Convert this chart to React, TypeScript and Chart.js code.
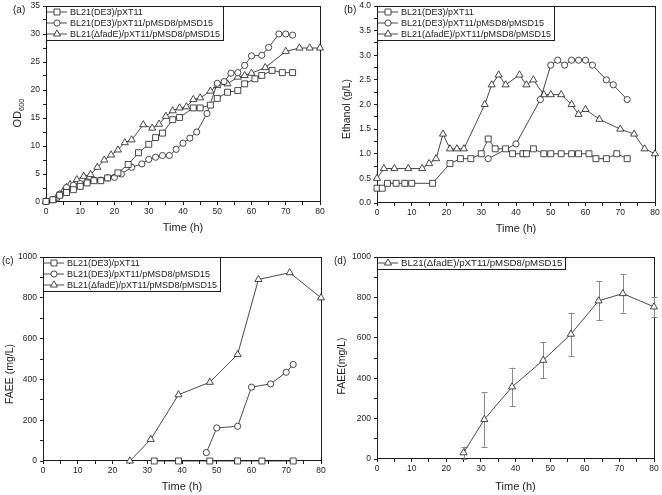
import React, { useEffect, useRef } from 'react';
import { Chart, registerables } from 'chart.js';

Chart.register(...registerables);

const FONT = '"Liberation Sans", Arial, Helvetica, sans-serif';
const INK = '#1c1c1c';

const LABEL_WT = 'BL21(DE3)/pXT11';
const LABEL_ENG = 'BL21(DE3)/pXT11/pMSD8/pMSD15';
const LABEL_FADE = 'BL21(\u0394fadE)/pXT11/pMSD8/pMSD15';

// (a) OD600
const odWtTime = [0, 2, 4, 6, 8, 10, 12, 14, 16, 18, 21, 24, 27, 30, 32, 34, 37, 39, 43, 45, 48, 50, 53, 56, 58, 61, 63, 66, 69, 72];
const odWtValue = [0.1, 0.4, 1.2, 1.7, 2.2, 2.8, 3.4, 3.8, 3.8, 4.3, 5.2, 6.7, 8.8, 10.3, 11.5, 12.3, 14.7, 15.1, 16.8, 16.8, 17.3, 18.5, 19.6, 19.9, 21.1, 22.0, 22.6, 23.5, 23.1, 23.1];
const odEngTime = [0, 2, 4, 6, 8, 10, 12, 14, 16, 18, 20, 22, 25, 28, 30, 32, 34, 36, 38, 40, 42, 44, 47, 50, 52, 54, 56, 58, 60, 63, 65, 68, 70, 72];
const odEngValue = [0.1, 0.4, 1.4, 2.6, 3.0, 3.3, 3.6, 3.9, 3.9, 4.3, 4.4, 5.0, 6.2, 6.8, 7.6, 8.0, 8.3, 8.3, 9.4, 10.5, 11.4, 12.5, 15.8, 21.2, 21.5, 23.0, 23.1, 24.4, 26.1, 26.2, 27.6, 30.0, 30.0, 29.8];
const odFadeTime = [0, 2, 3, 4, 5, 6, 7, 9, 11, 13, 15, 17, 19, 21, 23, 25, 28.4, 31, 33, 35, 37, 39, 41, 43, 45, 48, 50, 53, 56, 58, 60, 64, 70, 74, 77, 80];
const odFadeValue = [0.1, 0.3, 0.7, 1.3, 1.9, 2.6, 3.1, 4.0, 4.6, 4.9, 6.2, 7.5, 8.4, 9.3, 10.6, 11.1, 13.8, 13.2, 13.9, 15.3, 16.3, 16.8, 17.0, 18.3, 18.6, 19.8, 20.8, 21.1, 22.3, 22.6, 23.0, 24.0, 26.9, 27.5, 27.5, 27.5];

// (b) Ethanol
const etWtTime = [0, 1.5, 3, 5.5, 8, 10, 16, 21, 24, 27, 30, 32, 34, 37, 39, 42, 43, 45, 48, 50, 53, 56, 58, 61, 63, 66, 69, 72];
const etWtValue = [0.3, 0.3, 0.4, 0.4, 0.4, 0.4, 0.4, 0.8, 0.9, 0.9, 1.0, 1.3, 1.1, 1.1, 1.0, 1.0, 1.0, 1.1, 1.0, 1.0, 1.0, 1.0, 1.0, 1.0, 0.9, 0.9, 1.0, 0.9];
const etEngTime = [32, 40, 47, 50, 52, 54, 56, 58, 60, 62, 66, 68, 72];
const etEngValue = [0.9, 1.2, 2.1, 2.8, 2.9, 2.8, 2.9, 2.9, 2.9, 2.8, 2.5, 2.4, 2.1];
const etFadeTime = [0, 2, 5, 9, 13, 15, 17, 19, 21, 23, 25, 31, 33, 35, 37, 41, 43, 45, 48, 50, 53, 56, 58, 60, 64, 70, 74, 77, 80];
const etFadeValue = [0.5, 0.7, 0.7, 0.7, 0.7, 0.8, 0.9, 1.4, 1.1, 1.1, 1.1, 2.0, 2.4, 2.6, 2.4, 2.6, 2.4, 2.5, 2.2, 2.2, 2.2, 2.0, 1.8, 1.9, 1.7, 1.5, 1.4, 1.1, 1.0];

// (c) FAEE
const faWtTime = [32, 39, 48, 56, 63, 72];
const faWtValue = [0, 0, 0, 0, 0, 0];
const faEngTime = [47, 50, 56, 60, 65.5, 70, 72];
const faEngValue = [41, 162, 170, 362, 378, 435, 473];
const faFadeTime = [25, 31, 39, 48, 56, 62, 71, 80];
const faFadeValue = [0, 106, 325, 386, 522, 890, 923, 800];

// (d) FAEE with error bars
const fdTime = [25, 31, 39, 48, 56, 64, 71, 80];
const fdValue = [31, 196, 357, 489, 618, 783, 819, 753];
const fdError = [30, 136, 95, 90, 107, 97, 95, 51];

const RADIUS: Record<string, number> = { rect: 4.2, circle: 3.1, triangle: 4.1 };

type Series = { label: string; style: string; x: number[]; y: number[] };
type Spec = {
  key: string;
  x: number; y: number; w: number; h: number;
  yWidth: number; xHeight: number; padTop: number; padRight: number;
  yMax: number; yStep: number; yLabelEvery: number; yDecimals: number;
  series: Series[];
  panel: string;
  yTitle: { text: string; size: number; sub?: boolean }[];
  yTitleX: number; yTitleY: number; xTitleY: number;
  legendSize: number;
  errors?: number[];
};

function drawMarker(ctx: CanvasRenderingContext2D, style: string, x: number, y: number) {
  const r = RADIUS[style];
  ctx.beginPath();
  if (style === 'rect') {
    const s = r * Math.SQRT1_2;
    ctx.rect(x - s, y - s, 2 * s, 2 * s);
  } else if (style === 'circle') {
    ctx.arc(x, y, r, 0, Math.PI * 2);
  } else {
    let a = 0;
    ctx.moveTo(x + Math.sin(a) * r, y - Math.cos(a) * r);
    a += (2 * Math.PI) / 3;
    ctx.lineTo(x + Math.sin(a) * r, y - Math.cos(a) * r);
    a += (2 * Math.PI) / 3;
    ctx.lineTo(x + Math.sin(a) * r, y - Math.cos(a) * r);
    ctx.closePath();
  }
  ctx.fillStyle = '#fff';
  ctx.fill();
  ctx.strokeStyle = INK;
  ctx.lineWidth = 0.8;
  ctx.stroke();
}

function makePlugin(spec: Spec) {
  return {
    id: 'deco_' + spec.key,
    beforeDatasetsDraw(chart: any) {
      const ctx: CanvasRenderingContext2D = chart.ctx;
      const { left, top, right, bottom } = chart.chartArea;
      ctx.save();
      ctx.strokeStyle = INK;
      ctx.lineWidth = 1;
      ctx.strokeRect(Math.round(left) + 0.5, Math.round(top) + 0.5, Math.round(right - left), Math.round(bottom - top) - 1);
      if (spec.errors) {
        const xs = chart.scales.x;
        const ys = chart.scales.y;
        const s = spec.series[0];
        ctx.strokeStyle = '#8a8a8a';
        ctx.lineWidth = 1;
        s.x.forEach((t, i) => {
          const px = Math.round(xs.getPixelForValue(t)) + 0.5;
          const hi = ys.getPixelForValue(s.y[i] + spec.errors![i]);
          const lo = ys.getPixelForValue(s.y[i] - spec.errors![i]);
          ctx.beginPath();
          ctx.moveTo(px, hi);
          ctx.lineTo(px, lo);
          ctx.moveTo(px - 3, Math.round(hi) + 0.5);
          ctx.lineTo(px + 3, Math.round(hi) + 0.5);
          ctx.moveTo(px - 3, Math.round(lo) + 0.5);
          ctx.lineTo(px + 3, Math.round(lo) + 0.5);
          ctx.stroke();
        });
      }
      ctx.restore();
    },
    afterDraw(chart: any) {
      const ctx: CanvasRenderingContext2D = chart.ctx;
      const { left, top, right } = chart.chartArea;
      ctx.save();
      // legend
      ctx.font = `${spec.legendSize}px ${FONT}`;
      const rowH = 11;
      let maxW = 0;
      spec.series.forEach((s) => { maxW = Math.max(maxW, ctx.measureText(s.label).width); });
      const bx = Math.round(left) + 0.5;
      const by = Math.round(top) + 0.5;
      const bw = Math.round(24 + maxW + 3);
      const bh = Math.round(spec.series.length * rowH + 0.5);
      ctx.strokeStyle = INK;
      ctx.lineWidth = 1;
      ctx.strokeRect(bx, by, bw, bh);
      spec.series.forEach((s, i) => {
        const cy = top + 6 + i * rowH;
        ctx.beginPath();
        ctx.strokeStyle = INK;
        ctx.lineWidth = 0.8;
        ctx.moveTo(left + 1, cy);
        ctx.lineTo(left + 21, cy);
        ctx.stroke();
        drawMarker(ctx, s.style, left + 11, cy);
        ctx.fillStyle = INK;
        ctx.font = `${spec.legendSize}px ${FONT}`;
        ctx.textBaseline = 'middle';
        ctx.textAlign = 'left';
        ctx.fillText(s.label, left + 24, cy + 0.5);
      });
      // panel label
      ctx.font = `10px ${FONT}`;
      ctx.fillStyle = INK;
      ctx.textAlign = 'left';
      ctx.textBaseline = 'middle';
      const pl = spec.key === 'c' ? 2 : spec.key === 'd' ? 3 : 13;
      ctx.fillText(spec.panel, pl, top + 4);
      // x title
      ctx.font = `11px ${FONT}`;
      ctx.textAlign = 'center';
      ctx.fillText('Time (h)', (left + right) / 2, spec.xTitleY);
      // y title
      ctx.translate(spec.yTitleX, spec.yTitleY);
      ctx.rotate(-Math.PI / 2);
      let total = 0;
      spec.yTitle.forEach((p) => { ctx.font = `${p.size}px ${FONT}`; total += ctx.measureText(p.text).width; });
      let x = -total / 2;
      ctx.textAlign = 'left';
      spec.yTitle.forEach((p) => {
        ctx.font = `${p.size}px ${FONT}`;
        ctx.fillText(p.text, x, p.sub ? 3.5 : 0);
        x += ctx.measureText(p.text).width;
      });
      ctx.restore();
    },
  };
}

function buildConfig(spec: Spec): any {
  const tickFont = { family: FONT, size: 8.5 };
  return {
    type: 'line',
    data: {
      datasets: spec.series.map((s) => ({
        label: s.label,
        data: s.x.map((t, i) => ({ x: t, y: s.y[i] })),
        borderColor: INK,
        borderWidth: 0.8,
        pointStyle: s.style,
        pointRadius: RADIUS[s.style],
        pointHoverRadius: RADIUS[s.style],
        pointBackgroundColor: '#fff',
        pointBorderColor: INK,
        pointBorderWidth: 0.8,
        tension: 0,
        fill: false,
        clip: false,
      })),
    },
    options: {
      animation: false,
      responsive: false,
      devicePixelRatio: 1,
      events: [],
      layout: { padding: { top: spec.padTop, right: spec.padRight, left: 0, bottom: 0 } },
      plugins: { legend: { display: false }, tooltip: { enabled: false }, title: { display: false } },
      scales: {
        x: {
          type: 'linear',
          min: 0,
          max: 80,
          afterFit: (s: any) => { s.height = spec.xHeight; s.paddingLeft = 0; s.paddingRight = 0; },
          border: { display: false },
          grid: { drawOnChartArea: false, drawTicks: true, tickLength: 3, color: INK, lineWidth: 1 },
          ticks: {
            stepSize: 5,
            autoSkip: false,
            maxRotation: 0,
            padding: 2,
            color: INK,
            font: tickFont,
            callback: (v: number) => (Math.abs(v % 10) < 1e-6 ? String(v) : ''),
          },
        },
        y: {
          type: 'linear',
          min: 0,
          max: spec.yMax,
          afterFit: (s: any) => { s.width = spec.yWidth; s.paddingTop = 0; s.paddingBottom = 0; },
          border: { display: false },
          grid: { drawOnChartArea: false, drawTicks: true, tickLength: 3, color: INK, lineWidth: 1 },
          ticks: {
            stepSize: spec.yStep,
            autoSkip: false,
            padding: 3,
            color: INK,
            font: tickFont,
            callback: (v: number) => {
              const k = v / spec.yLabelEvery;
              return Math.abs(k - Math.round(k)) < 1e-6 ? v.toFixed(spec.yDecimals) : '';
            },
          },
        },
      },
    },
    plugins: [makePlugin(spec)],
  };
}

const SPECS: Spec[] = [
  {
    key: 'a', x: 0, y: 0, w: 331, h: 250, yWidth: 46, xHeight: 48, padTop: 6, padRight: 11,
    yMax: 35, yStep: 2.5, yLabelEvery: 5, yDecimals: 0,
    series: [
      { label: LABEL_WT, style: 'rect', x: odWtTime, y: odWtValue },
      { label: LABEL_ENG, style: 'circle', x: odEngTime, y: odEngValue },
      { label: LABEL_FADE, style: 'triangle', x: odFadeTime, y: odFadeValue },
    ],
    panel: '(a)', yTitle: [{ text: 'OD', size: 11 }, { text: '600', size: 7.5, sub: true }],
    yTitleX: 18, yTitleY: 113, xTitleY: 228, legendSize: 9,
  },
  {
    key: 'b', x: 331, y: 0, w: 331, h: 250, yWidth: 46, xHeight: 47, padTop: 6, padRight: 7,
    yMax: 4, yStep: 0.25, yLabelEvery: 0.5, yDecimals: 1,
    series: [
      { label: LABEL_WT, style: 'rect', x: etWtTime, y: etWtValue },
      { label: LABEL_ENG, style: 'circle', x: etEngTime, y: etEngValue },
      { label: LABEL_FADE, style: 'triangle', x: etFadeTime, y: etFadeValue },
    ],
    panel: '(b)', yTitle: [{ text: 'Ethanol (g/L)', size: 10.5 }],
    yTitleX: 16, yTitleY: 109, xTitleY: 229, legendSize: 9,
  },
  {
    key: 'c', x: 0, y: 250, w: 331, h: 245, yWidth: 43, xHeight: 34, padTop: 7, padRight: 10,
    yMax: 1000, yStep: 100, yLabelEvery: 200, yDecimals: 0,
    series: [
      { label: LABEL_WT, style: 'rect', x: faWtTime, y: faWtValue },
      { label: LABEL_ENG, style: 'circle', x: faEngTime, y: faEngValue },
      { label: LABEL_FADE, style: 'triangle', x: faFadeTime, y: faFadeValue },
    ],
    panel: '(c)', yTitle: [{ text: 'FAEE (mg/L)', size: 10.5 }],
    yTitleX: 10, yTitleY: 124, xTitleY: 237, legendSize: 9,
  },
  {
    key: 'd', x: 331, y: 250, w: 331, h: 245, yWidth: 46, xHeight: 36, padTop: 7, padRight: 8,
    yMax: 1000, yStep: 100, yLabelEvery: 200, yDecimals: 0,
    series: [{ label: LABEL_FADE, style: 'triangle', x: fdTime, y: fdValue }],
    errors: fdError,
    panel: '(d)', yTitle: [{ text: 'FAEE(mg/L)', size: 10.5 }],
    yTitleX: 11, yTitleY: 116, xTitleY: 237, legendSize: 9.7,
  },
];

function Panel({ spec }: { spec: Spec }) {
  const ref = useRef<HTMLCanvasElement | null>(null);
  useEffect(() => {
    const chart = new Chart(ref.current as HTMLCanvasElement, buildConfig(spec));
    return () => chart.destroy();
  }, [spec]);
  return (
    <canvas
      ref={ref}
      width={spec.w}
      height={spec.h}
      style={{ position: 'absolute', left: spec.x, top: spec.y, width: spec.w, height: spec.h }}
    />
  );
}

export default function App() {
  return (
    <div style={{ position: 'absolute', left: 0, top: 0, width: 662, height: 495, background: '#fff', overflow: 'hidden' }}>
      {SPECS.map((s) => (
        <Panel key={s.key} spec={s} />
      ))}
    </div>
  );
}
